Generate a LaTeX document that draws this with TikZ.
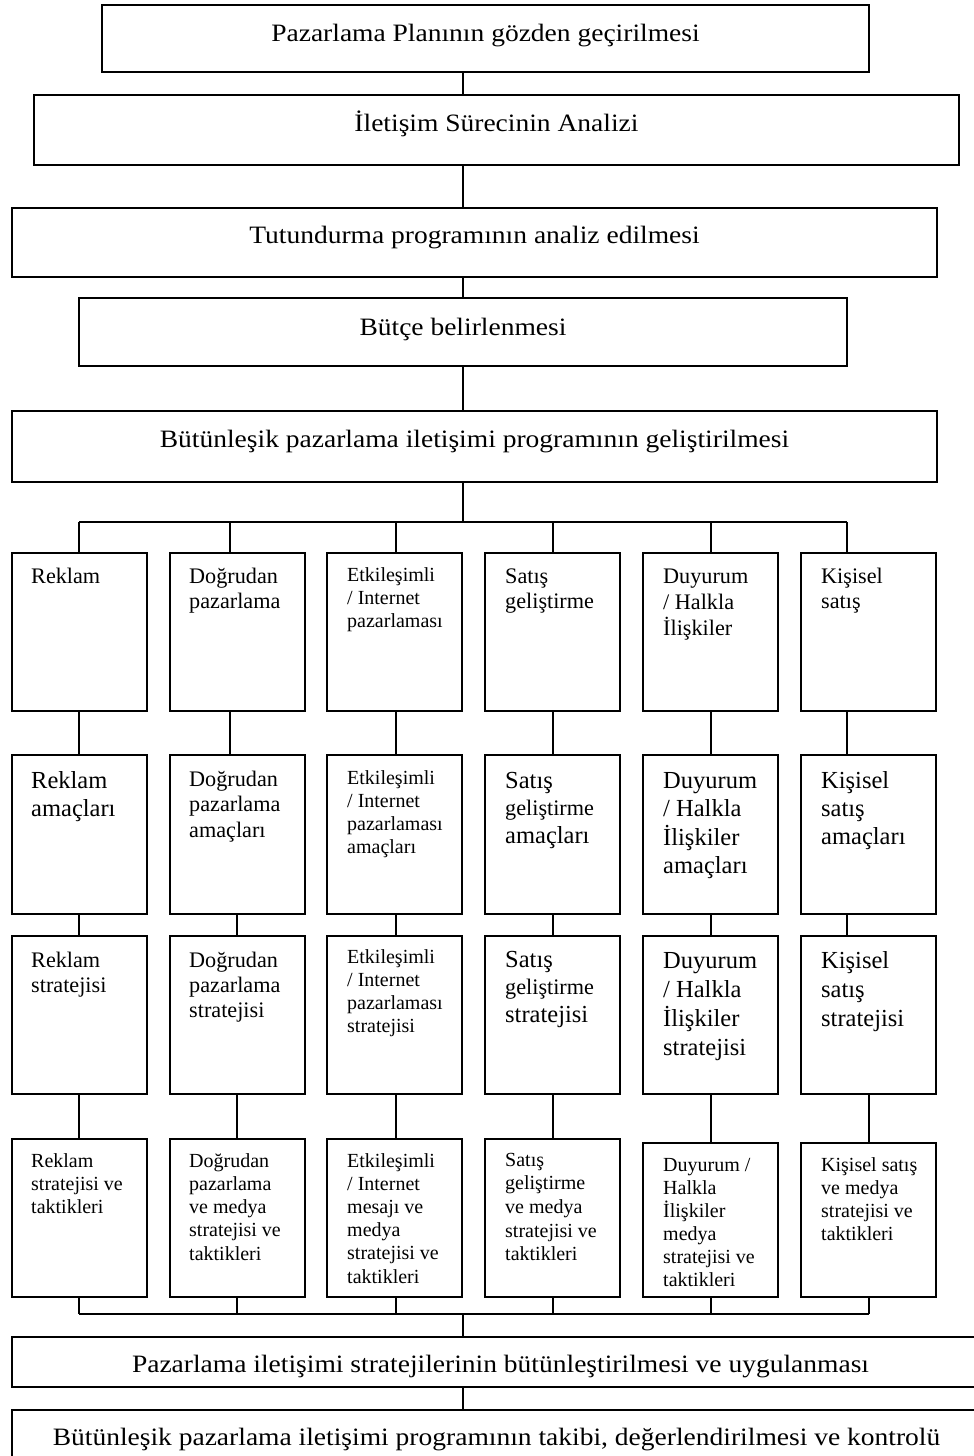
\documentclass[tikz,border=0pt]{standalone}
\usepackage{fontspec}
\setmainfont{Liberation Serif}
\newfontfamily\widefont[FakeStretch=1.1]{Liberation Serif}
\newcommand\szA{\fontsize{22.2}{25.7}\selectfont}
\newcommand\szB{\fontsize{24.5}{28}\selectfont}
\newcommand\szC{\fontsize{20}{23}\selectfont}
\newcommand\szW{\widefont\fontsize{25}{30}\selectfont}
% left-aligned stack of lines; the node baseline is the first line
\newcommand\colstack[2]{\vtop{\baselineskip=#1\relax\lineskiplimit=-\maxdimen\lineskip=0pt\let\\\cr\halign{##\hfil\cr#2\crcr}}}

\begin{document}
\begin{tikzpicture}[x=1pt,y=-1pt,
  box/.style={draw, line width=1.5pt, inner sep=0pt, outer sep=0pt, anchor=north west},
  link/.style={line width=1.5pt},
  wtxt/.style={anchor=base, inner sep=0pt, font=\szW},
  txt/.style={anchor=base west, inner sep=0pt}]
\useasboundingbox (0,0) rectangle (974,1456);

% main stages
\node[box, minimum width=767pt, minimum height=67pt] (w1) at (102,5) {};
\node[box, minimum width=925pt, minimum height=70pt] (w2) at (34,95) {};
\node[box, minimum width=925pt, minimum height=69pt] (w3) at (12,208) {};
\node[box, minimum width=768pt, minimum height=68pt] (w4) at (79,298) {};
\node[box, minimum width=925pt, minimum height=71pt] (w5) at (12,411) {};
\node[box, minimum width=976pt, minimum height=50pt] (w6) at (12,1337) {};
\node[box, minimum width=976pt, minimum height=65pt] (w7) at (12,1410) {};

\node[wtxt] (tw1) at (485.5,41) {Pazarlama Planının gözden geçirilmesi};
\node[wtxt] (tw2) at (496.5,131) {İletişim Sürecinin Analizi};
\node[wtxt] (tw3) at (474.5,243) {Tutundurma programının analiz edilmesi};
\node[wtxt] (tw4) at (463,335) {Bütçe belirlenmesi};
\node[wtxt] (tw5) at (474.5,447) {Bütünleşik pazarlama iletişimi programının geliştirilmesi};
\node[wtxt] (tw6) at (500.5,1372.5) {Pazarlama iletişimi stratejilerinin bütünleştirilmesi ve uygulanması};
\node[wtxt] (tw7) at (496.5,1445) {Bütünleşik pazarlama iletişimi programının takibi, değerlendirilmesi ve kontrolü};

% column boxes
\foreach \c/\x in {1/12,2/170,3/327,4/485,5/643,6/801} {
  \node[box, minimum width=135pt, minimum height=158pt] (r1\c) at (\x,553) {};
  \node[box, minimum width=135pt, minimum height=159pt] (r2\c) at (\x,755) {};
  \node[box, minimum width=135pt, minimum height=158pt] (r3\c) at (\x,936) {};
}
\foreach \c/\x in {1/12,2/170,3/327,4/485} {
  \node[box, minimum width=135pt, minimum height=158pt] (r4\c) at (\x,1139) {};
}
\foreach \c/\x in {5/643,6/801} {
  \node[box, minimum width=135pt, minimum height=154pt] (r4\c) at (\x,1143) {};
}

% spine and bars
\coordinate (sp) at (463,0);
\coordinate (tbL) at (79,522);
\coordinate (tbR) at (847,522);
\coordinate (bbL) at (79,1314);
\coordinate (bbR) at (869,1314);
\draw[link] (w1.south -| sp) -- (w2.north -| sp);
\draw[link] (w2.south -| sp) -- (w3.north -| sp);
\draw[link] (w3.south -| sp) -- (w4.north -| sp);
\draw[link] (w4.south -| sp) -- (w5.north -| sp);
\draw[link] (w5.south -| sp) -- (tbL -| sp);
\draw[link] (tbL) -- (tbR);
\draw[link] (bbL) -- (bbR);
\draw[link] (bbL -| sp) -- (w6.north -| sp);
\draw[link] (w6.south -| sp) -- (w7.north -| sp);

% column connectors
\foreach \c/\a/\b/\d in {1/67/67/67, 2/60/67/67, 3/69/69/69, 4/68/68/68, 5/68/68/68, 6/46/46/68} {
  \draw[link] ([xshift=\a pt]r1\c.north west) -- ++(0pt,31pt);
  \draw[link] ([xshift=\a pt]r1\c.south west) -- ([xshift=\a pt]r2\c.north west);
  \draw[link] ([xshift=\b pt]r2\c.south west) -- ([xshift=\b pt]r3\c.north west);
  \draw[link] ([xshift=\d pt]r3\c.south west) -- ([xshift=\d pt]r4\c.north west);
  \draw[link] ([xshift=\d pt]r4\c.south west) -- ([xshift=\d pt]r4\c.south west |- bbL);
}

% row 1
\node[txt, font=\szA] (t11) at (31,583) {\colstack{25.7pt}{Reklam}};
\node[txt, font=\szA] (t12) at (189,583) {\colstack{25.7pt}{Doğrudan\\pazarlama}};
\node[txt, font=\szC] (t13) at (347,581) {\colstack{23pt}{Etkileşimli\\/ Internet\\pazarlaması}};
\node[txt, font=\szA] (t14) at (505,583) {\colstack{25.7pt}{Satış\\geliştirme}};
\node[txt, font=\szA] (t15) at (663,583) {\colstack{26pt}{Duyurum\\/ Halkla\\İlişkiler}};
\node[txt, font=\szA] (t16) at (821,583) {\colstack{25.7pt}{Kişisel\\satış}};

% row 2
\node[txt, font=\szB] (t21) at (31,788) {\colstack{28pt}{Reklam\\amaçları}};
\node[txt, font=\szA] (t22) at (189,786) {\colstack{25.7pt}{Doğrudan\\pazarlama\\amaçları}};
\node[txt, font=\szC] (t23) at (347,784) {\colstack{23pt}{Etkileşimli\\/ Internet\\pazarlaması\\amaçları}};
\node[txt, font=\szB] (t24) at (505,788) {\colstack{27.5pt}{Satış\\\szA geliştirme\\amaçları}};
\node[txt, font=\szB] (t25) at (663,788) {\colstack{28.5pt}{Duyurum\\/ Halkla\\İlişkiler\\amaçları}};
\node[txt, font=\szB] (t26) at (821,788) {\colstack{28pt}{Kişisel\\satış\\amaçları}};

% row 3
\node[txt, font=\szA] (t31) at (31,967) {\colstack{25.3pt}{Reklam\\stratejisi}};
\node[txt, font=\szA] (t32) at (189,967) {\colstack{25.3pt}{Doğrudan\\pazarlama\\stratejisi}};
\node[txt, font=\szC] (t33) at (347,963) {\colstack{23.3pt}{Etkileşimli\\/ Internet\\pazarlaması\\stratejisi}};
\node[txt, font=\szB] (t34) at (505,967) {\colstack{27.5pt}{Satış\\\szA geliştirme\\stratejisi}};
\node[txt, font=\szB] (t35) at (663,968) {\colstack{29pt}{Duyurum\\/ Halkla\\İlişkiler\\stratejisi}};
\node[txt, font=\szB] (t36) at (821,968) {\colstack{29pt}{Kişisel\\satış\\stratejisi}};

% row 4
\node[txt, font=\szC] (t41) at (31,1167) {\colstack{23.3pt}{Reklam\\stratejisi ve\\taktikleri}};
\node[txt, font=\szC] (t42) at (189,1167) {\colstack{23.3pt}{Doğrudan\\pazarlama\\ve medya\\stratejisi ve\\taktikleri}};
\node[txt, font=\szC] (t43) at (347,1167) {\colstack{23.2pt}{Etkileşimli\\/ Internet\\mesajı ve\\medya\\stratejisi ve\\taktikleri}};
\node[txt, font=\szC] (t44) at (505,1166) {\colstack{23.7pt}{Satış\\geliştirme\\ve medya\\stratejisi ve\\taktikleri}};
\node[txt, font=\szC] (t45) at (663,1171) {\colstack{23.1pt}{Duyurum /\\Halkla\\İlişkiler\\medya\\stratejisi ve\\taktikleri}};
\node[txt, font=\szC] (t46) at (821,1171) {\colstack{23.3pt}{Kişisel satış\\ve medya\\stratejisi ve\\taktikleri}};
\end{tikzpicture}
\end{document}
